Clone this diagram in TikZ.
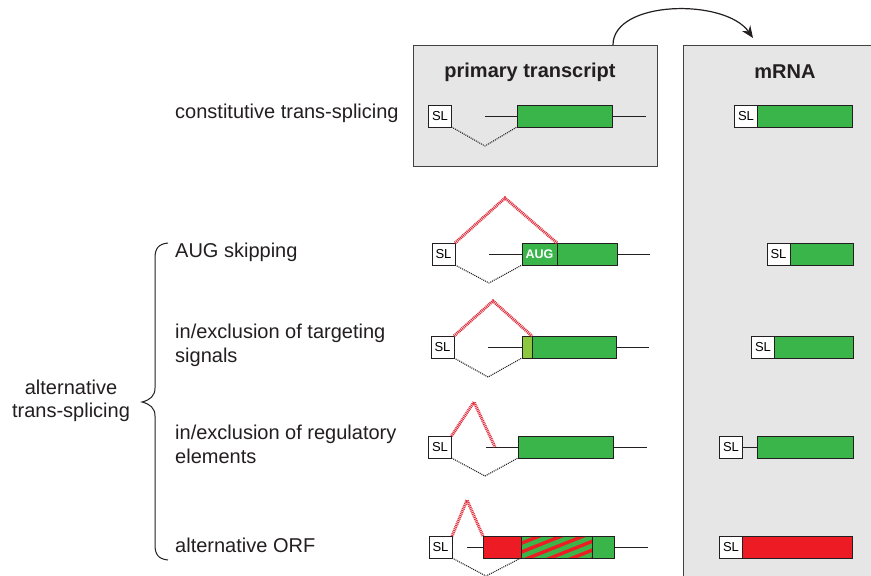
\documentclass[tikz,border=0pt]{standalone}
\usepackage{fontspec}
\setmainfont{Liberation Sans}
\usetikzlibrary{positioning,arrows.meta}
\definecolor{exongreen}{HTML}{39B54A}
\definecolor{lightgreen}{HTML}{8DC63F}
\definecolor{exonred}{HTML}{ED1C24}
\definecolor{splred}{HTML}{E0303F}
\definecolor{panelgray}{HTML}{E6E6E6}
\definecolor{inkgray}{HTML}{231F20}
\begin{document}
\begin{tikzpicture}[x=1pt,y=-1pt,
    panel/.style={draw=inkgray!85,line width=1pt,fill=panelgray,inner sep=0pt,outer sep=0pt},
    slbox/.style={draw=inkgray,line width=0.8pt,fill=white,inner sep=0pt,outer sep=0pt,
        minimum width=23,minimum height=22,font=\fontsize{13}{13}\selectfont},
    exon/.style={draw=inkgray,line width=0.8pt,fill=exongreen,inner sep=0pt,outer sep=0pt,minimum height=22},
    rna/.style={inkgray,line width=0.8pt},
    cis/.style={inkgray,line width=1.1pt,dash pattern=on 1pt off 1pt},
    alt/.style={splred,line width=3pt,dash pattern=on 1pt off 0.8pt},
    lbl/.style={anchor=west,inner sep=0pt,text=inkgray,align=left,font=\fontsize{20}{24}\selectfont}]
    \clip (0,0) rectangle (871,576);
    \fill[white] (0,0) rectangle (871,576);
    \node[panel,minimum width=244,minimum height=121] (prim) at (535,105.5) {};
    \node[panel,minimum width=230,minimum height=560] (mrna) at (798,325) {};
    \node[font=\bfseries\fontsize{20}{20}\selectfont,text=inkgray] (primt) at (530,72) {primary transcript};
    \node[font=\bfseries\fontsize{20}{20}\selectfont,text=inkgray] (mrnat) at (785,72) {mRNA};
    \draw[inkgray,line width=1.2pt,-{Stealth[length=12pt,width=10pt]}] ([xshift=78]prim.north) .. controls ++(0,-45) and (725,-2) .. ([xshift=-45,yshift=7]mrna.north);
    % constitutive
    \node[lbl] (t1) at (175,113) {constitutive trans-splicing};
    \node[slbox] (sl1) at (440,116) {SL};
    \node[exon,minimum width=95] (ex1) at (564.5,116) {};
    \coordinate (a1) at (485,116);
    \coordinate (b1) at (646,116);
    \coordinate (c1) at (485,146);
    \draw[rna] (a1) -- (ex1.west);
    \draw[rna] (ex1.east) -- (b1);
    \draw[cis] (sl1.south east) -- (c1) -- (ex1.south west);
    \node[slbox] (msl1) at (746,116) {SL};
    \node[exon,minimum width=95,right=0pt of msl1] (mex1) {};
    % AUG skipping
    \node[lbl] (t2) at (175,252) {AUG skipping};
    \node[slbox] (sl2) at (443.5,254) {SL};
    \node[exon,minimum width=35,text=white,font=\bfseries\fontsize{12.5}{12.5}\selectfont] (aug2) at (539.5,254) {AUG};
    \node[exon,minimum width=60,right=0pt of aug2] (ex2) {};
    \coordinate (a2) at (489,254);
    \coordinate (b2) at (650,254);
    \coordinate (c2) at (489,283);
    \coordinate (r2) at (505,198);
    \draw[rna] (a2) -- (aug2.west);
    \draw[rna] (ex2.east) -- (b2);
    \draw[cis] (sl2.south east) -- (c2) -- (aug2.south west);
    \draw[alt] (sl2.north east) -- (r2) -- (aug2.north east);
    \node[slbox] (msl2) at (778.5,254) {SL};
    \node[exon,minimum width=63,right=0pt of msl2] (mex2) {};
    % targeting signals
    \node[lbl] (t3) at (175,345) {in/exclusion of targeting\\signals};
    \node[slbox] (sl3) at (442.5,347) {SL};
    \node[exon,minimum width=10,fill=lightgreen] (sig3) at (527,347) {};
    \node[exon,minimum width=84,right=0pt of sig3] (ex3) {};
    \coordinate (a3) at (488,347);
    \coordinate (b3) at (649,347);
    \coordinate (c3) at (488,377);
    \coordinate (r3) at (493,301);
    \draw[rna] (a3) -- (sig3.west);
    \draw[rna] (ex3.east) -- (b3);
    \draw[cis] (sl3.south east) -- (c3) -- (sig3.south west);
    \draw[alt] (sl3.north east) -- (r3) -- (sig3.north east);
    \node[slbox] (msl3) at (763,347) {SL};
    \node[exon,minimum width=79,right=0pt of msl3] (mex3) {};
    % regulatory elements
    \node[lbl] (t4) at (175,444) {in/exclusion of regulatory\\elements};
    \node[slbox] (sl4) at (440,447) {SL};
    \node[exon,minimum width=95] (ex4) at (565.5,447) {};
    \coordinate (a4) at (486,447);
    \coordinate (b4) at (647,447);
    \coordinate (c4) at (485,476);
    \coordinate (r4) at (474,402);
    \coordinate (e4) at (495,447);
    \draw[rna] (a4) -- (ex4.west);
    \draw[rna] (ex4.east) -- (b4);
    \draw[cis] (sl4.south east) -- (c4) -- (ex4.south west);
    \draw[alt] (sl4.north east) -- (r4) -- (e4);
    \node[slbox] (msl4) at (731,447) {SL};
    \node[exon,minimum width=96] (mex4) at (805,447) {};
    \draw[rna] (msl4.east) -- (mex4.west);
    % alternative ORF
    \node[lbl] (t5) at (175,545) {alternative ORF};
    \node[slbox] (sl5) at (440.5,547) {SL};
    \node[exon,minimum width=38,fill=exonred] (orf5) at (502,547) {};
    \node[exon,minimum width=71,fill=exonred,right=0pt of orf5] (mix5) {};
    \node[exon,minimum width=22,right=0pt of mix5] (ex5) {};
    \begin{scope}
    \clip (mix5.south west) rectangle (mix5.north east);
    \foreach \s in {-3,...,4}
        \draw[exongreen,line width=4.5pt] (522+22*\s,565) -- +(75,-30);
    \end{scope}
    \draw[inkgray,line width=0.8pt] (mix5.south west) rectangle (mix5.north east);
    \coordinate (a5) at (467,547);
    \coordinate (b5) at (648,547);
    \coordinate (c5) at (486,576);
    \coordinate (r5) at (467,500);
    \draw[rna] (a5) -- (orf5.west);
    \draw[rna] (ex5.east) -- (b5);
    \draw[cis] (sl5.south east) -- (c5) -- (mix5.south west);
    \draw[alt] (sl5.north east) -- (r5) -- (orf5.north west);
    \node[slbox] (msl5) at (731,547) {SL};
    \node[exon,minimum width=110,fill=exonred,right=0pt of msl5] (mex5) {};
    % brace
    \node[inner sep=0pt,text=inkgray,align=center,font=\fontsize{20}{23}\selectfont] (alt) at (71,401) {alternative\\trans-splicing};
    \draw[inkgray,line width=1pt] (168,243) .. controls (158,244) and (155,249) .. (155,258) -- (155,388) .. controls (155,396) and (150,400) .. (142,402) .. controls (150,404) and (155,408) .. (155,416) -- (155,545) .. controls (155,554) and (158,559) .. (168,560);
\end{tikzpicture}
\end{document}
